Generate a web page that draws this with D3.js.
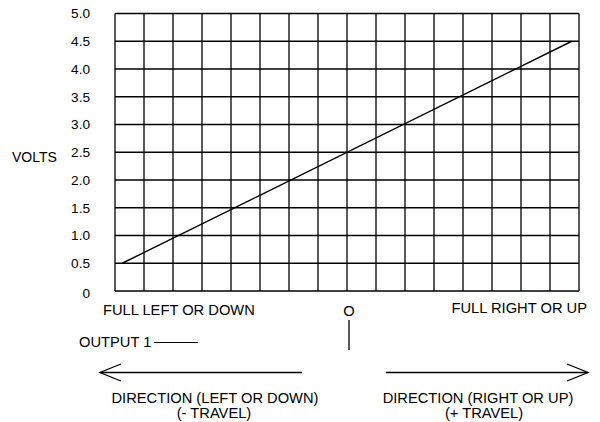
<!DOCTYPE html>
<html>
<head>
<meta charset="utf-8">
<script src="https://cdn.jsdelivr.net/npm/d3@7"></script>
<style>
  html, body { margin: 0; padding: 0; background: #fff; }
  svg { display: block; font-family: "Liberation Sans", Arial, sans-serif; }
</style>
</head>
<body>
<svg id="chart" width="600" height="422"></svg>
<script>
// ---- data ----
const positions = [-7.75, 7.75];          // travel position (grid columns from centre)
const volts = [0.5, 4.5];                 // output 1 voltage
const yTickValues = [0, 0.5, 1, 1.5, 2, 2.5, 3, 3.5, 4, 4.5, 5];
const yTickLabels = ["0", "0.5", "1.0", "1.5", "2.0", "2.5", "3.0", "3.5", "4.0", "4.5", "5.0"];
const xGridValues = [-8, -7, -6, -5, -4, -3, -2, -1, 0, 1, 2, 3, 4, 5, 6, 7, 8];
const yLabel = "VOLTS";
const leftEndLabel = "FULL LEFT OR DOWN";
const rightEndLabel = "FULL RIGHT OR UP";
const centreLabel = "O";
const legendLabel = "OUTPUT 1";
const leftDirLines = ["DIRECTION (LEFT OR DOWN)", "(- TRAVEL)"];
const rightDirLines = ["DIRECTION (RIGHT OR UP)", "(+ TRAVEL)"];

// ---- scales ----
const svg = d3.select("#chart");
const x = d3.scaleLinear().domain([-8, 8]).range([115, 579]);
const y = d3.scaleLinear().domain([0, 5]).range([291, 13.5]);

// ---- grid ----
const g = svg.append("g");
g.selectAll("line.v").data(xGridValues).join("line")
  .attr("x1", d => x(d)).attr("x2", d => x(d))
  .attr("y1", y(0)).attr("y2", y(5))
  .attr("stroke", "#000").attr("stroke-width", 1.3);
g.selectAll("line.h").data(yTickValues).join("line")
  .attr("x1", x(-8)).attr("x2", x(8))
  .attr("y1", d => y(d)).attr("y2", d => y(d))
  .attr("stroke", "#000").attr("stroke-width", 1.3);

// ---- y tick labels ----
svg.append("g").selectAll("text").data(yTickValues).join("text")
  .attr("x", 90)
  .attr("y", d => y(d) + (d === 0 ? 2 : 0))
  .attr("dy", "0.36em")
  .attr("text-anchor", "end")
  .attr("font-size", 13.6)
  .attr("fill", "#000")
  .text((d, i) => yTickLabels[i]);

svg.append("text").attr("x", 12).attr("y", 162)
  .attr("font-size", 14).attr("fill", "#000").text(yLabel);

// ---- data line ----
const pts = positions.map((p, i) => [p, volts[i]]);
svg.append("path").datum(pts)
  .attr("d", d3.line().x(d => x(d[0])).y(d => y(d[1])))
  .attr("fill", "none").attr("stroke", "#000").attr("stroke-width", 1.4);

// ---- bottom annotations ----
const fs = 14.7;
svg.append("text").attr("x", 103).attr("y", 315).attr("font-size", fs).text(leftEndLabel);
svg.append("text").attr("x", 587).attr("y", 313).attr("text-anchor", "end").attr("font-size", fs).text(rightEndLabel);
svg.append("text").attr("x", x(0) + 2).attr("y", 316).attr("text-anchor", "middle").attr("font-size", fs).text(centreLabel);
svg.append("line").attr("x1", x(0) + 2).attr("x2", x(0) + 2).attr("y1", 320).attr("y2", 350)
  .attr("stroke", "#000").attr("stroke-width", 1.3);

svg.append("text").attr("x", 79).attr("y", 347).attr("font-size", fs).text(legendLabel + " ");
svg.append("line").attr("x1", 154).attr("x2", 198).attr("y1", 342.5).attr("y2", 342.5)
  .attr("stroke", "#000").attr("stroke-width", 1.2);

// arrows
const arrowY = 372.5;
function arrow(xFrom, xTo) {
  const dir = xTo > xFrom ? 1 : -1;
  svg.append("line").attr("x1", xFrom).attr("x2", xTo).attr("y1", arrowY).attr("y2", arrowY)
    .attr("stroke", "#000").attr("stroke-width", 1.3);
  svg.append("path")
    .attr("d", `M${xTo - dir * 21},${arrowY - 8.5} L${xTo},${arrowY} L${xTo - dir * 21},${arrowY + 8.5}`)
    .attr("fill", "none").attr("stroke", "#000").attr("stroke-width", 1.3);
}
arrow(x(-1.55), x(-8.52));
arrow(x(1.34), x(8.31));

svg.append("text").attr("x", 215).attr("y", 403).attr("text-anchor", "middle").attr("font-size", fs).text(leftDirLines[0]);
svg.append("text").attr("x", 214).attr("y", 418).attr("text-anchor", "middle").attr("font-size", fs).text(leftDirLines[1]);
svg.append("text").attr("x", 478).attr("y", 403).attr("text-anchor", "middle").attr("font-size", fs).text(rightDirLines[0]);
svg.append("text").attr("x", 484).attr("y", 418).attr("text-anchor", "middle").attr("font-size", fs).text(rightDirLines[1]);
</script>
</body>
</html>
